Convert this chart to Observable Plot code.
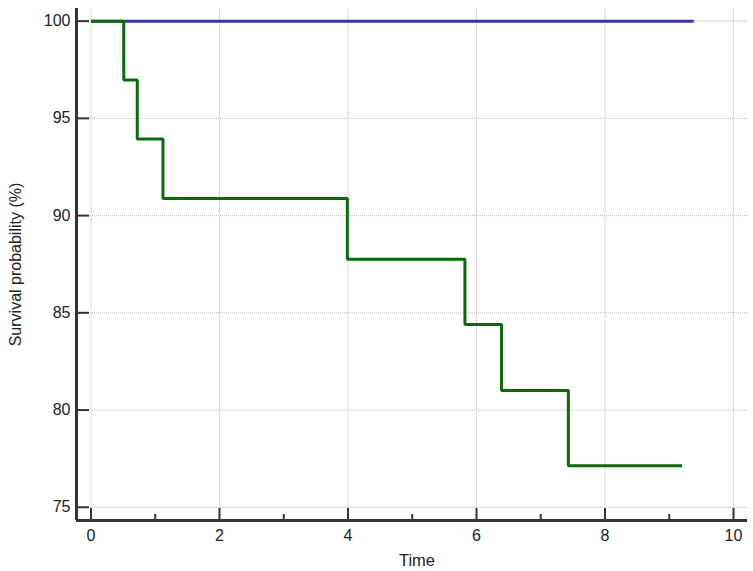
<!DOCTYPE html>
<html>
<head>
<meta charset="utf-8">
<script src="https://cdn.jsdelivr.net/npm/d3@7"></script>
<script src="https://cdn.jsdelivr.net/npm/@observablehq/plot@0.6"></script>
<style>
  html, body { margin: 0; padding: 0; background: #fff; }
  #chart svg { display: block; }
</style>
</head>
<body>
<div id="chart"></div>
<script>
// Survival curves (step functions)
const groupATime = [0, 9.38];
const groupAValue = [100, 100];
const groupBTime = [0, 0.51, 0.72, 1.12, 3.99, 5.82, 6.39, 7.43, 9.2];
const groupBValue = [100, 96.97, 93.94, 90.88, 87.76, 84.4, 81.0, 77.14, 77.14];

const xMajorTicks = [0, 2, 4, 6, 8, 10];
const xMinorTicks = [1, 3, 5, 7, 9];
const yTicks = [75, 80, 85, 90, 95, 100];

const xLabel = "Time";
const yLabel = "Survival probability (%)";

const seriesA = groupATime.map((t, i) => ({time: t, value: groupAValue[i]}));
const seriesB = groupBTime.map((t, i) => ({time: t, value: groupBValue[i]}));

const xDomain = [-0.2257, 10.218];
const yDomain = [74.32, 100.65];
const axisColor = "#333";
const gridStyle = {stroke: "#bdbdbd", strokeOpacity: 1, strokeDasharray: "1,1"};

const chart = Plot.plot({
  width: 753,
  height: 571,
  marginLeft: 76,
  marginRight: 6,
  marginTop: 8,
  marginBottom: 51,
  style: {fontFamily: "'Liberation Sans', Arial, sans-serif", fontSize: "16px", color: "#222", background: "#fff"},
  x: {domain: xDomain},
  y: {domain: yDomain},
  marks: [
    Plot.gridX(xMajorTicks, gridStyle),
    Plot.gridY(yTicks, gridStyle),
    // tick marks (inward)
    Plot.axisX(xMajorTicks, {tickSize: 12, dy: -12, fill: "none", stroke: axisColor, strokeWidth: 2, label: null}),
    Plot.axisX(xMinorTicks, {tickSize: 6, dy: -6, fill: "none", stroke: axisColor, strokeWidth: 2, label: null}),
    Plot.axisY(yTicks, {tickSize: 13, dx: 13, fill: "none", stroke: axisColor, strokeWidth: 2, label: null}),
    // tick labels
    Plot.axisX(xMajorTicks, {tickSize: 0, tickPadding: 9, label: null, fill: "#222", fontSize: 16}),
    Plot.axisY(yTicks, {tickSize: 0, tickPadding: 6, label: null, fill: "#222", fontSize: 16}),
    // axis lines
    Plot.ruleX([xDomain[0]], {stroke: axisColor, strokeWidth: 3}),
    Plot.ruleY([yDomain[0]], {stroke: axisColor, strokeWidth: 3}),
    // curves
    Plot.line(seriesA, {x: "time", y: "value", curve: "step-after", stroke: "#3434a6", strokeWidth: 3, strokeLinejoin: "miter", strokeLinecap: "butt"}),
    Plot.line(seriesB, {x: "time", y: "value", curve: "step-after", stroke: "#0b6b0b", strokeWidth: 3, strokeLinejoin: "miter", strokeLinecap: "butt"}),
    // axis titles
    Plot.text([xLabel], {text: d => d, frameAnchor: "bottom", dy: 40, dx: 5, fontSize: 16.5, fill: "#222", lineAnchor: "middle", textAnchor: "middle"}),
    Plot.text([yLabel], {text: d => d, frameAnchor: "left", dx: -60.5, rotate: -90, fontSize: 16, fill: "#222", lineAnchor: "middle", textAnchor: "middle"})
  ]
});
document.getElementById("chart").appendChild(chart);
</script>
</body>
</html>
